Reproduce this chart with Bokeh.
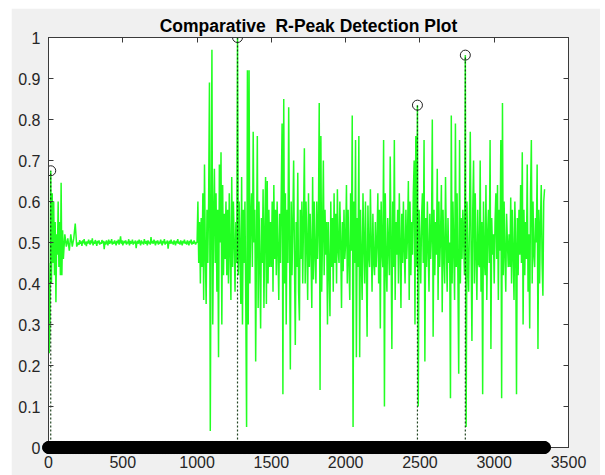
import numpy as np
from bokeh.plotting import figure
from bokeh.models import FixedTicker, LinearAxis, Range1d
from bokeh.embed import file_html
from bokeh.resources import INLINE

title_text = "Comparative \u00a0R-Peak Detection Plot"
x_ticks = [0, 500, 1000, 1500, 2000, 2500, 3000, 3500]
x_tick_labels = ["0", "500", "1000", "1500", "2000", "2500", "3000", "3500"]
y_ticks = [0, 0.1, 0.2, 0.3, 0.4, 0.5, 0.6, 0.7, 0.8, 0.9, 1.0]
y_tick_labels = ["0", "0.1", "0.2", "0.3", "0.4", "0.5", "0.6", "0.7", "0.8", "0.9", "1"]

# initial transient of the signal
x_start = [0, 5, 10, 15, 20, 25, 30, 35, 40, 45, 50, 55, 60, 65, 70, 75, 80, 85, 90, 95,
           100, 110, 120, 130, 140, 150, 160, 170, 180, 190]
y_start = [0.45, 0.23, 0.30, 0.675, 0.40, 0.62, 0.45, 0.60, 0.42, 0.55, 0.354, 0.52, 0.47, 0.60,
           0.44, 0.55, 0.42, 0.646, 0.42, 0.53, 0.46, 0.52, 0.49, 0.51, 0.48, 0.52, 0.49, 0.51,
           0.546, 0.49]

# quiet baseline, x = 200 .. 995
y_quiet = [
    0.500, 0.494, 0.506, 0.497, 0.503, 0.492, 0.505, 0.498, 0.508, 0.495, 0.502, 0.491, 0.503, 0.497, 0.507, 0.500,
    0.495, 0.505, 0.498, 0.510, 0.493, 0.502, 0.497, 0.506, 0.500, 0.492, 0.504, 0.498, 0.505, 0.495, 0.500, 0.497,
    0.506, 0.498, 0.504, 0.484, 0.502, 0.495, 0.505, 0.500, 0.493, 0.507, 0.497, 0.504, 0.498, 0.508, 0.495, 0.502,
    0.497, 0.505, 0.500, 0.493, 0.504, 0.498, 0.507, 0.495, 0.502, 0.515, 0.497, 0.505, 0.493, 0.500, 0.504, 0.498,
    0.505, 0.495, 0.502, 0.498, 0.508, 0.493, 0.504, 0.497, 0.500, 0.507, 0.495, 0.502, 0.498, 0.505, 0.486, 0.500,
    0.504, 0.497, 0.507, 0.500, 0.493, 0.505, 0.498, 0.502, 0.495, 0.508, 0.500, 0.497, 0.504, 0.493, 0.505, 0.498,
    0.502, 0.495, 0.513, 0.498, 0.504, 0.497, 0.507, 0.500, 0.493, 0.504, 0.498, 0.505, 0.495, 0.502, 0.497, 0.507,
    0.500, 0.493, 0.504, 0.498, 0.508, 0.495, 0.502, 0.498, 0.505, 0.485, 0.500, 0.504, 0.497, 0.507, 0.498, 0.502,
    0.495, 0.505, 0.500, 0.493, 0.504, 0.498, 0.508, 0.497, 0.502, 0.495, 0.505, 0.500, 0.493, 0.504, 0.498, 0.507,
    0.497, 0.502, 0.495, 0.505, 0.500, 0.493, 0.504, 0.498, 0.507, 0.495, 0.502, 0.497, 0.505, 0.500, 0.495, 0.500,
]

# active segment from x = 1000, 18 samples per 100 units (one row per 100 units)
y_active = [
    0.50, 0.60, 0.45, 0.55, 0.40, 0.56, 0.44, 0.62, 0.36, 0.69, 0.47, 0.35, 0.58, 0.45, 0.60, 0.89, 0.04, 0.55,   # 1000
    0.97, 0.30, 0.55, 0.68, 0.45, 0.62, 0.38, 0.58, 0.22, 0.69, 0.50, 0.72, 0.30, 0.64, 0.42, 0.57, 0.46, 0.60,   # 1100
    0.42, 0.58, 0.40, 0.62, 0.48, 0.36, 0.66, 0.44, 0.60, 0.50, 0.38, 0.55, 0.45, 1.00, 0.42, 0.60, 0.47, 0.35,   # 1200
    0.66, 0.30, 0.58, 0.45, 0.60, 0.35, 0.05, 0.92, 0.30, 0.92, 0.40, 0.56, 0.62, 0.44, 0.77, 0.50, 0.58, 0.21,   # 1300
    0.50, 0.76, 0.34, 0.60, 0.45, 0.29, 0.56, 0.45, 0.63, 0.34, 0.52, 0.66, 0.35, 0.65, 0.40, 0.58, 0.44, 0.55,   # 1400
    0.44, 0.60, 0.38, 0.64, 0.46, 0.58, 0.42, 0.60, 0.48, 0.36, 0.57, 0.45, 0.62, 0.79, 0.13, 0.85, 0.40, 0.62,   # 1500
    0.30, 0.58, 0.45, 0.83, 0.50, 0.19, 0.60, 0.42, 0.55, 0.70, 0.46, 0.25, 0.55, 0.44, 0.67, 0.38, 0.31, 0.58,   # 1600
    0.46, 0.60, 0.40, 0.56, 0.73, 0.40, 0.60, 0.50, 0.36, 0.62, 0.44, 0.57, 0.48, 0.34, 0.66, 0.41, 0.60, 0.47,   # 1700
    0.40, 0.60, 0.46, 0.55, 0.84, 0.14, 0.76, 0.38, 0.52, 0.70, 0.42, 0.58, 0.47, 0.55, 0.30, 0.55, 0.44, 0.32,   # 1800
    0.60, 0.44, 0.56, 0.38, 0.62, 0.45, 0.57, 0.40, 0.63, 0.48, 0.45, 0.60, 0.50, 0.34, 0.55, 0.43, 0.58, 0.46,   # 1900
    0.50, 0.64, 0.40, 0.58, 0.45, 0.36, 0.62, 0.48, 0.81, 0.05, 0.60, 0.45, 0.75, 0.22, 0.56, 0.44, 0.76, 0.22,   # 2000
    0.58, 0.46, 0.36, 0.62, 0.50, 0.40, 0.60, 0.45, 0.27, 0.59, 0.47, 0.44, 0.63, 0.50, 0.38, 0.57, 0.45, 0.42,   # 2100
    0.55, 0.44, 0.50, 0.62, 0.40, 0.58, 0.29, 0.60, 0.48, 0.44, 0.75, 0.10, 0.62, 0.45, 0.38, 0.56, 0.49, 0.42,   # 2200
    0.71, 0.50, 0.24, 0.60, 0.44, 0.75, 0.36, 0.55, 0.47, 0.58, 0.40, 0.62, 0.50, 0.34, 0.57, 0.45, 0.60, 0.48,   # 2300
    0.40, 0.58, 0.46, 0.52, 0.65, 0.36, 0.60, 0.42, 0.55, 0.47, 0.62, 0.70, 0.30, 0.76, 0.44, 0.835, 0.10, 0.58,  # 2400
    0.50, 0.40, 0.56, 0.62, 0.45, 0.75, 0.21, 0.56, 0.44, 0.60, 0.48, 0.38, 0.57, 0.46, 0.52, 0.80, 0.27, 0.58,   # 2500
    0.42, 0.55, 0.47, 0.68, 0.36, 0.60, 0.44, 0.52, 0.64, 0.33, 0.58, 0.47, 0.40, 0.66, 0.50, 0.38, 0.56, 0.45,   # 2600
    0.50, 0.12, 0.81, 0.40, 0.60, 0.48, 0.36, 0.79, 0.44, 0.62, 0.42, 0.18, 0.75, 0.40, 0.56, 0.46, 0.58, 0.50,   # 2700
    0.42, 0.957, 0.05, 0.60, 0.45, 0.38, 0.55, 0.77, 0.48, 0.26, 0.58, 0.70, 0.40, 0.62, 0.47, 0.36, 0.58, 0.45,  # 2800
    0.44, 0.70, 0.38, 0.55, 0.13, 0.60, 0.46, 0.42, 0.64, 0.36, 0.52, 0.58, 0.45, 0.75, 0.24, 0.56, 0.47, 0.52,   # 2900
    0.40, 0.55, 0.62, 0.46, 0.64, 0.36, 0.58, 0.48, 0.75, 0.12, 0.84, 0.42, 0.60, 0.47, 0.38, 0.57, 0.50, 0.44,   # 3000
    0.52, 0.44, 0.61, 0.40, 0.58, 0.47, 0.36, 0.60, 0.50, 0.13, 0.56, 0.42, 0.58, 0.47, 0.64, 0.45, 0.72, 0.30,   # 3100
    0.58, 0.42, 0.55, 0.46, 0.69, 0.38, 0.52, 0.29, 0.62, 0.75, 0.40, 0.60, 0.47, 0.44, 0.56, 0.50, 0.69, 0.24,   # 3200
    0.58, 0.40, 0.55, 0.64, 0.45, 0.37, 0.60, 0.63,                                                               # 3300
]
active_start = 1000
active_step = 100.0 / 18.0

# detected R-peaks (sample positions and values)
peak_x = [15, 1272.22, 2483.33, 2805.56]
peak_y = [0.675, 1.0, 0.835, 0.957]

x_quiet = np.linspace(200, 995, len(y_quiet))
x_active = active_start + np.arange(len(y_active)) * active_step
sig_x = np.concatenate([x_start, x_quiet, x_active])
sig_y = np.concatenate([y_start, y_quiet, y_active])

p = figure(width=589, height=467, output_backend="svg", toolbar_location=None,
           x_range=Range1d(0, 3500), y_range=Range1d(0, 1),
           min_border_left=37, min_border_right=32, min_border_top=29, min_border_bottom=28)
p.margin = (8, 5, 0, 11)
p.background_fill_color = "white"
p.border_fill_color = "#f0f0f0"
p.outline_line_color = "#3a3a3a"
p.outline_line_width = 1
p.grid.visible = False

p.title.text = title_text
p.title.align = "center"
p.title.text_font = "Liberation Sans"
p.title.text_font_size = "17.5px"
p.title.text_font_style = "bold"
p.title.text_color = "black"
p.title.standoff = 4

def style_axis(ax, ticks, labels, show_labels=True):
    ax.ticker = FixedTicker(ticks=ticks)
    ax.major_label_overrides = {t: l for t, l in zip(ticks, labels)}
    ax.minor_tick_line_color = None
    ax.major_tick_in = 5
    ax.major_tick_out = 0
    ax.major_tick_line_color = "#3a3a3a"
    ax.axis_line_color = "#3a3a3a"
    ax.major_label_text_font = "Liberation Sans"
    if show_labels:
        ax.major_label_text_font_size = "16px"
        ax.major_label_text_color = "#262626"
        ax.major_label_standoff = 8
    else:
        ax.major_label_text_font_size = "1px"
        ax.major_label_text_color = None
        ax.major_label_standoff = 0

style_axis(p.xaxis[0], x_ticks, x_tick_labels)
style_axis(p.yaxis[0], y_ticks, y_tick_labels)
top_ax = LinearAxis()
right_ax = LinearAxis()
style_axis(top_ax, x_ticks, x_tick_labels, show_labels=False)
style_axis(right_ax, y_ticks, y_tick_labels, show_labels=False)
p.add_layout(top_ax, "above")
p.add_layout(right_ax, "right")

p.line(sig_x, sig_y, line_color="#22ff22", line_width=1.5)
p.segment(x0=peak_x, y0=[0] * len(peak_x), x1=peak_x, y1=peak_y,
          line_color="#0a300a", line_width=1.2, line_dash="2 2", line_alpha=0.9)
p.scatter(peak_x, peak_y, size=10, marker="circle", fill_color=None,
          line_color="#222222", line_width=1)
p.scatter(sig_x, np.zeros(len(sig_x)), size=12, marker="circle",
          fill_color="black", line_color="black", level="overlay")

open("out.html", "w").write(file_html(p, INLINE))
